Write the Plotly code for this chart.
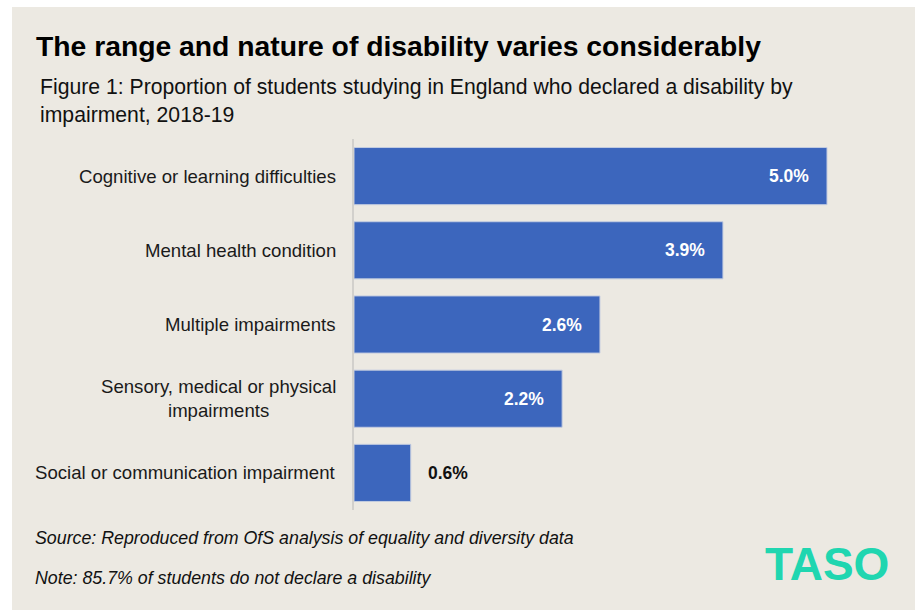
import plotly.graph_objects as go

categories = ["Cognitive or learning difficulties", "Mental health condition",
              "Multiple impairments", "Sensory, medical or physical<br>impairments",
              "Social or communication impairment"]
values = [5.0, 3.9, 2.6, 2.2, 0.6]
value_labels = ["5.0%", "3.9%", "2.6%", "2.2%", "0.6%"]
inside = [True, True, True, True, False]

W, H = 915, 610
ML, MR, MT, MB = 354, 41, 139, 100
PW, PH = W - ML - MR, H - MT - MB
def px(x): return (x - ML) / PW
def py(y): return (H - MB - y) / PH

BG = "#ECE9E2"
BAR = "#3C66BD"
FONT = "Liberation Sans, Arial, sans-serif"

fig = go.Figure(go.Bar(
    x=values, y=categories, orientation="h", width=0.77,
    marker=dict(color=BAR, line=dict(color="#C3CCE0", width=1)),
    hoverinfo="skip"))

ann = []
for c, v, t, ins in zip(categories, values, value_labels, inside):
    ann.append(dict(x=0, y=c, xref="x", yref="y", text=c, showarrow=False,
                    xanchor="right", align="center", xshift=-16,
                    font=dict(family=FONT, size=18.6, color="#1a1a1a")))
    if ins:
        ann.append(dict(x=v, y=c, xref="x", yref="y", text="<b>%s</b>" % t, showarrow=False,
                        xanchor="right", xshift=-16, font=dict(family=FONT, size=17.5, color="white")))
    else:
        ann.append(dict(x=v, y=c, xref="x", yref="y", text="<b>%s</b>" % t, showarrow=False,
                        xanchor="left", xshift=15, font=dict(family=FONT, size=17.5, color="#111")))

def txt(x, y, s, size, **kw):
    d = dict(x=px(x), y=py(y), xref="paper", yref="paper", text=s, showarrow=False,
             xanchor="left", yanchor="middle", align="left",
             font=dict(family=FONT, size=size, color=kw.pop("color", "#000")))
    d.update(kw)
    ann.append(d)

txt(34, 46, "<b>The range and nature of disability varies considerably</b>", 28.3)
txt(38, 101, "Figure 1: Proportion of students studying in England who declared a disability by<br>impairment, 2018-19", 21.2, color="#111")
txt(33, 538, "<i>Source: Reproduced from OfS analysis of equality and diversity data</i>", 17.8, color="#111")
txt(33, 578, "<i>Note: 85.7% of students do not declare a disability</i>", 17.8, color="#111")
txt(763, 564, "<b>TASO</b>", 46, color="#20D6B0")

shapes = [
    dict(type="rect", xref="paper", yref="paper", x0=px(-5), x1=px(12), y0=py(H + 5), y1=py(-5),
         fillcolor="white", line=dict(width=0), layer="below"),
    dict(type="rect", xref="paper", yref="paper", x0=px(-5), x1=px(W + 5), y0=py(7), y1=py(-5),
         fillcolor="white", line=dict(width=0), layer="below"),
]

fig.update_layout(
    width=W, height=H, margin=dict(l=ML, r=MR, t=MT, b=MB),
    paper_bgcolor=BG, plot_bgcolor=BG, showlegend=False,
    xaxis=dict(range=[0, PW / 94.6], visible=False, fixedrange=True),
    yaxis=dict(autorange="reversed", showticklabels=False, showgrid=False, zeroline=False,
               showline=True, linecolor="#D2D0CC", linewidth=2, ticks="", fixedrange=True),
    annotations=ann, shapes=shapes,
)
fig.write_html("out.html")
